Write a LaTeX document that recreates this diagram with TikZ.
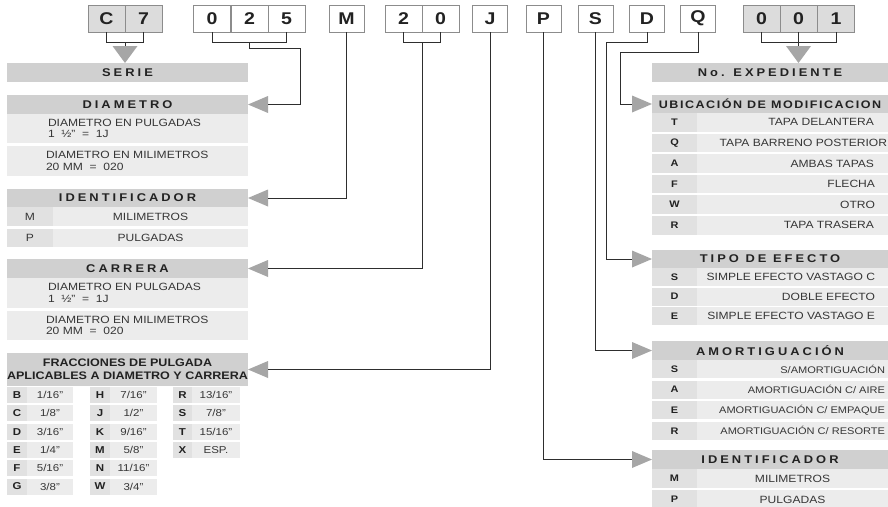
\documentclass[tikz,border=0pt]{standalone}
\usepackage{fontspec}
\setmainfont{Liberation Sans}[FakeStretch=1.15]
\newfontfamily\hdrfont{Liberation Sans}[FakeStretch=1.15,LetterSpace=27]
\newfontfamily\ubfont{Liberation Sans}[FakeStretch=1.15,LetterSpace=14]
\usetikzlibrary{calc}
\definecolor{hdrgray}{HTML}{D0D0D0}
\definecolor{rowgray}{HTML}{ECECEC}
\definecolor{keygray}{HTML}{E1E1E1}
\definecolor{arrgray}{HTML}{A6A6A6}
\definecolor{linecol}{HTML}{2E2E2E}
\definecolor{boxline}{HTML}{8C8C8C}
\definecolor{boxfill}{HTML}{DCDCDC}
\definecolor{txt}{HTML}{222222}
\definecolor{txtlight}{HTML}{363636}
\newcommand\arrL[1]{\fill[arrgray] (#1.east) -- ++(20,-8.5) -- ++(0,17) -- cycle;}
\newcommand\arrR[1]{\fill[arrgray] (#1.west) -- ++(-20,-8.5) -- ++(0,17) -- cycle;}
\tikzset{
  topw/.style={draw=boxline, line width=0.9pt, fill=white, minimum width=37, minimum height=27,
    font=\fontsize{17}{17}\selectfont\bfseries, text=txt},
  topg/.style={topw, fill=boxfill},
  bar/.style={fill=hdrgray, text=txt, font=\hdrfont\bfseries\fontsize{11.2}{13}\selectfont},
  baru/.style={fill=hdrgray, text=txt, font=\ubfont\bfseries\fontsize{10.9}{13}\selectfont},
  barp/.style={fill=hdrgray, text=txt, align=center, font=\bfseries\fontsize{10.9}{13}\selectfont},
  rowcell/.style={fill=rowgray},
  rowtxt/.style={text=txtlight, font=\fontsize{10.5}{11.5}\selectfont},
  keyr/.style={fill=keygray, text=txtlight, font=\fontsize{10.5}{11.5}\selectfont},
  valc/.style={fill=rowgray, text=txtlight, font=\fontsize{10.5}{11.5}\selectfont},
  keyb/.style={fill=keygray, text=txt, font=\bfseries\fontsize{9.5}{11}\selectfont},
  fkey/.style={fill=keygray, text=txt, minimum height=16, font=\bfseries\fontsize{10}{11}\selectfont},
  fval/.style={fill=rowgray, text=txtlight, minimum height=16, font=\fontsize{10}{11}\selectfont},
  conn/.style={draw=linecol, line width=0.9pt},
}
\begin{document}
\begin{tikzpicture}[x=1pt,y=-1pt, every node/.style={inner sep=0pt,outer sep=0pt}]
\useasboundingbox[fill=white] (0,0) rectangle (888,506);

% ---------- top code boxes ----------
\node[topg] (c1) at (106.5,18.5) {C};
\node[topg] (c2) at (143.5,18.5) {7};
\node[topw] (d1) at (212,18.5) {0};
\node[topw] (d2) at (249.5,18.5) {2};
\node[topw] (d3) at (286.5,18.5) {5};
\node[topw, minimum width=35] (m) at (346.5,18.5) {M};
\node[topw] (t1) at (403.5,18.5) {2};
\node[topw] (t2) at (440.5,18.5) {0};
\node[topw, minimum width=35] (j) at (490,18.5) {J};
\node[topw, minimum width=35] (p) at (543.5,18.5) {P};
\node[topw, minimum width=35] (s) at (595.5,18.5) {S};
\node[topw, minimum width=35] (dd) at (647,18.5) {D};
\node[topw, minimum width=35] (q) at (698,18.5) {Q};
\node[topg] (n1) at (761.5,18.5) {0};
\node[topg] (n2) at (798.5,18.5) {0};
\node[topg] (n3) at (836,18.5) {1};

% ---------- left tables ----------
\node[bar, minimum width=241, minimum height=19] (serie) at (127.5,72.5) {SERIE};

\node[bar, minimum width=241, minimum height=19] (diam) at (127.5,104.5) {DIAMETRO};
\node[rowcell, minimum width=241, minimum height=29] (diam1) at (127.5,128.5) {};
\node[rowtxt, anchor=west, align=left] at (48,128.5) {DIAMETRO EN PULGADAS\\1~~½"~~=~~1J};
\node[rowcell, minimum width=241, minimum height=30] (diam2) at (127.5,161) {};
\node[rowtxt, anchor=west, align=left] at (46,161) {DIAMETRO EN MILIMETROS\\20 MM~~=~~020};

\node[bar, minimum width=241, minimum height=18] (idl) at (127.5,198) {IDENTIFICADOR};
\node[keyr, minimum width=46, minimum height=19] (idlk1) at (30,216.5) {M};
\node[valc, minimum width=195, minimum height=19] (idlv1) at (150.5,216.5) {MILIMETROS};
\node[keyr, minimum width=46, minimum height=18] (idlk2) at (30,238) {P};
\node[valc, minimum width=195, minimum height=18] (idlv2) at (150.5,238) {PULGADAS};

\node[bar, minimum width=241, minimum height=19] (carr) at (127.5,268.5) {CARRERA};
\node[rowcell, minimum width=241, minimum height=30] (carr1) at (127.5,293) {};
\node[rowtxt, anchor=west, align=left] at (48,293) {DIAMETRO EN PULGADAS\\1~~½"~~=~~1J};
\node[rowcell, minimum width=241, minimum height=29] (carr2) at (127.5,325.5) {};
\node[rowtxt, anchor=west, align=left] at (46,325.5) {DIAMETRO EN MILIMETROS\\20 MM~~=~~020};

\node[barp, minimum width=241, minimum height=33] (frac) at (127.5,369.5) {FRACCIONES DE PULGADA\\APLICABLES A DIAMETRO Y CARRERA};

\foreach \k/\v [count=\i from 0] in {B/{1/16"},C/{1/8"},D/{3/16"},E/{1/4"},F/{5/16"},G/{3/8"}} {
  \node[fkey, minimum width=20] (fa\i) at (17,395+18.3*\i) {\k};
  \node[fval, minimum width=46] (fb\i) at (50,395+18.3*\i) {\v};
}
\foreach \k/\v [count=\i from 0] in {H/{7/16"},J/{1/2"},K/{9/16"},M/{5/8"},N/{11/16"},W/{3/4"}} {
  \node[fkey, minimum width=20] (fc\i) at (100,395+18.3*\i) {\k};
  \node[fval, minimum width=47] (fd\i) at (133.5,395+18.3*\i) {\v};
}
\foreach \k/\v [count=\i from 0] in {R/{13/16"},S/{7/8"},T/{15/16"},X/{ESP.}} {
  \node[fkey, minimum width=19] (fe\i) at (182.5,395+18.3*\i) {\k};
  \node[fval, minimum width=48] (ff\i) at (216,395+18.3*\i) {\v};
}

% ---------- right tables ----------
\node[bar, minimum width=236, minimum height=19] (nexp) at (770,72.5) {No. EXPEDIENTE};

\node[baru, minimum width=236, minimum height=18] (ubic) at (770,104) {UBICACIÓN DE MODIFICACION};
\foreach \k/\v/\xr [count=\i from 0] in {T/TAPA DELANTERA/874,Q/TAPA BARRENO POSTERIOR/887,A/AMBAS TAPAS/874,F/FLECHA/875,W/OTRO/875,R/TAPA TRASERA/874} {
  \node[keyb, minimum width=45, minimum height=18.5] (uk\i) at (674.5,122.25+20.6*\i) {\k};
  \node[rowcell, minimum width=191, minimum height=18.5] (uv\i) at (792.5,122.25+20.6*\i) {};
  \node[rowtxt, anchor=east] at (\xr,122.25+20.6*\i) {\v};
}

\node[bar, minimum width=236, minimum height=18] (tipo) at (770,259) {TIPO DE EFECTO};
\foreach \k/\v [count=\i from 0] in {S/SIMPLE EFECTO VASTAGO C,D/DOBLE EFECTO,E/SIMPLE EFECTO VASTAGO E} {
  \node[keyb, minimum width=45, minimum height=18] (tk\i) at (674.5,277+19.5*\i) {\k};
  \node[rowcell, minimum width=191, minimum height=18] (tv\i) at (792.5,277+19.5*\i) {};
  \node[rowtxt, anchor=east] at (875,277+19.5*\i) {\v};
}

\node[bar, minimum width=236, minimum height=19] (amort) at (770,350.5) {AMORTIGUACIÓN};
\foreach \k/\v [count=\i from 0] in {S/{S/AMORTIGUACIÓN},A/{AMORTIGUACIÓN C/ AIRE},E/{AMORTIGUACIÓN C/ EMPAQUE},R/{AMORTIGUACIÓN C/ RESORTE}} {
  \node[keyb, minimum width=45, minimum height=18] (ak\i) at (674.5,369+20.6*\i) {\k};
  \node[rowcell, minimum width=191, minimum height=18] (av\i) at (792.5,369+20.6*\i) {};
  \node[rowtxt, anchor=east, font=\fontsize{9.6}{11}\selectfont] at (885,369+20.6*\i) {\v};
}

\node[bar, minimum width=236, minimum height=19] (idr) at (770,459.5) {IDENTIFICADOR};
\foreach \k/\v [count=\i from 0] in {M/MILIMETROS,P/PULGADAS} {
  \node[keyb, minimum width=45, minimum height=19] (ik\i) at (674.5,478.5+21*\i) {\k};
  \node[valc, minimum width=191, minimum height=19] (iv\i) at (792.5,478.5+21*\i) {\v};
}

% ---------- arrow heads ----------
\fill[arrgray] (serie.north -| c1.east) -- ++(-12.5,-17) -- ++(25,0) -- cycle;
\fill[arrgray] (nexp.north -| n2.south) -- ++(-12.5,-17) -- ++(25,0) -- cycle;
\arrL{diam}
\arrL{idl}
\arrL{carr}
\arrL{frac}
\arrR{ubic}
\arrR{tipo}
\arrR{amort}
\arrR{idr}

% ---------- connectors ----------
\draw[conn] (c1.south) -- (c1.south |- 0,42) -- (c2.south |- 0,42) -- (c2.south);
\draw[conn] (c1.east |- 0,42) -- (c1.east |- 0,46);

\draw[conn] (d1.south) -- (d1.south |- 0,42) -- (d3.south |- 0,42) -- (d3.south);
\draw[conn] (d2.south |- 0,42) -- (d2.south |- 0,48) -| ($(diam.east)+(52,0)$) -- ($(diam.east)+(20,0)$);

\draw[conn] (m.south) |- ($(idl.east)+(20,0)$);

\draw[conn] (t1.south) -- (t1.south |- 0,42) -- (t2.south |- 0,42) -- (t2.south);
\draw[conn] (t1.east |- 0,42) |- ($(carr.east)+(20,0)$);

\draw[conn] (j.south) |- ($(frac.east)+(20,0)$);

\draw[conn] (p.south) |- ($(idr.west)+(-20,0)$);
\draw[conn] (s.south) |- ($(amort.west)+(-20,0)$);
\draw[conn] (dd.south) -- (dd.south |- 0,42) -| ($(tipo.west)+(-46,0)$) -- ($(tipo.west)+(-20,0)$);
\draw[conn] (q.south) -- (q.south |- 0,52) -| ($(ubic.west)+(-32,0)$) -- ($(ubic.west)+(-20,0)$);

\draw[conn] (n1.south) -- (n1.south |- 0,42) -- (n3.south |- 0,42) -- (n3.south);
\draw[conn] (n2.south) -- (n2.south |- 0,46);
\end{tikzpicture}
\end{document}
